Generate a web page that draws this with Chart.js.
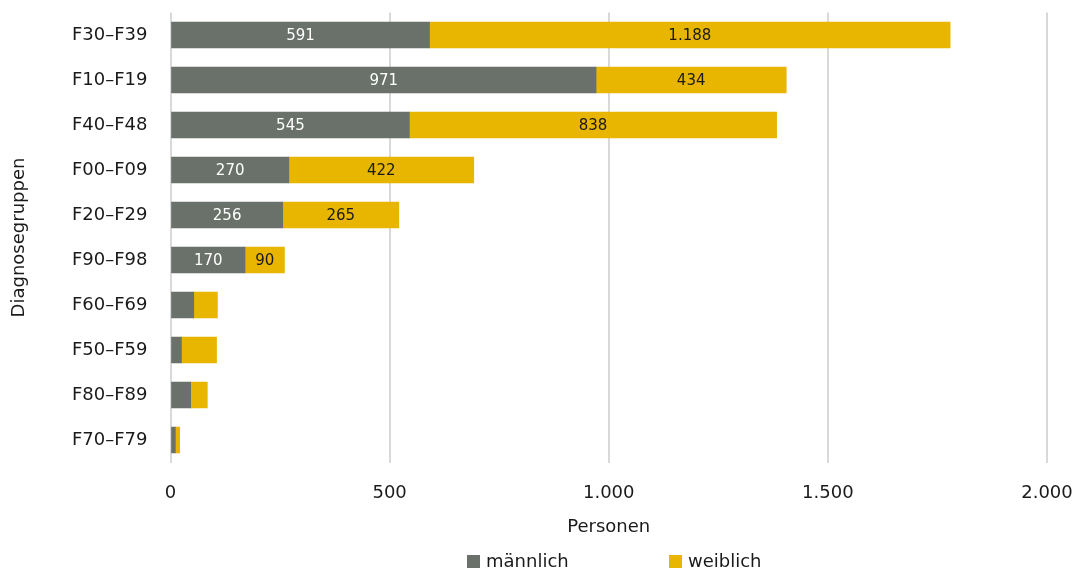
<!DOCTYPE html>
<html>
<head>
<meta charset="utf-8">
<script src="https://cdn.jsdelivr.net/npm/chart.js@4/dist/chart.umd.min.js"></script>
<style>
  html, body { margin: 0; padding: 0; background: #fff; }
  #wrap { width: 1076px; height: 570px; }
</style>
</head>
<body>
<div id="wrap"><canvas id="c" width="1076" height="570"></canvas></div>
<script>
// Diagnosis groups (ICD-10 chapter F), persons by sex
const categories = ['F30–F39', 'F10–F19', 'F40–F48', 'F00–F09', 'F20–F29', 'F90–F98', 'F60–F69', 'F50–F59', 'F80–F89', 'F70–F79'];
const maleValues = [591, 971, 545, 270, 256, 170, 53, 25, 46, 11];
const femaleValues = [1188, 434, 838, 422, 265, 90, 54, 80, 38, 10];
const labelledRows = 6; // value labels only on the larger groups
const xTicks = [0, 500, 1000, 1500, 2000];

const FONT = '"DejaVu Sans", sans-serif';
const TEXT = '#1a1a1a';
const MALE = '#69716a';
const FEMALE = '#e8b500';

const fmt = v => v.toLocaleString('de-DE');

// value labels inside the bar segments
const barLabels = {
  id: 'barLabels',
  afterDatasetsDraw(chart) {
    const ctx = chart.ctx;
    ctx.save();
    ctx.font = '15px ' + FONT;
    ctx.textAlign = 'center';
    ctx.textBaseline = 'middle';
    chart.data.datasets.forEach((ds, di) => {
      const meta = chart.getDatasetMeta(di);
      meta.data.forEach((bar, i) => {
        if (i >= labelledRows) return;
        const p = bar.getProps(['x', 'y', 'base'], true);
        ctx.fillStyle = di === 0 ? '#ffffff' : TEXT;
        ctx.fillText(fmt(ds.data[i]), (p.x + p.base) / 2, p.y + 1);
      });
    });
    ctx.restore();
  }
};

// legend drawn below the axis title
const bottomLegend = {
  id: 'bottomLegend',
  afterDraw(chart) {
    const ctx = chart.ctx;
    ctx.save();
    ctx.font = '18px ' + FONT;
    ctx.textBaseline = 'middle';
    const items = chart.data.datasets.map((ds, i) => ({
      text: ds.label, color: ds.backgroundColor, x: i === 0 ? 467 : 669
    }));
    const y = 561;
    items.forEach(it => {
      ctx.fillStyle = it.color;
      ctx.fillRect(it.x, y - 6, 13, 13);
      ctx.fillStyle = TEXT;
      ctx.fillText(it.text, it.x + 19, y + 1);
    });
    ctx.restore();
  }
};

const axisFont = { family: FONT, size: 18 };

new Chart(document.getElementById('c'), {
  type: 'bar',
  data: {
    labels: categories,
    datasets: [
      { label: 'männlich', data: maleValues, backgroundColor: MALE, barThickness: 26 },
      { label: 'weiblich', data: femaleValues, backgroundColor: FEMALE, barThickness: 26 }
    ]
  },
  options: {
    indexAxis: 'y',
    responsive: false,
    animation: false,
    devicePixelRatio: 1,
    layout: { padding: { left: 9, right: 29, top: 12.5, bottom: 31.6 } },
    plugins: {
      legend: { display: false },
      tooltip: { enabled: false }
    },
    scales: {
      x: {
        stacked: true,
        min: 0,
        max: 2000,
        afterBuildTicks(axis) { axis.ticks = xTicks.map(v => ({ value: v })); },
        afterFit(axis) { axis.paddingLeft = 0; axis.paddingRight = 0; },
        grid: { color: '#d9d9d9', lineWidth: 2, drawTicks: false },
        border: { display: false },
        ticks: {
          padding: 20,
          color: TEXT,
          font: axisFont,
          callback: v => fmt(v)
        },
        title: {
          display: true,
          text: 'Personen',
          color: TEXT,
          font: axisFont,
          padding: { top: -7.3, bottom: 0 }
        }
      },
      y: {
        stacked: true,
        afterFit(axis) { axis.paddingTop = 0; axis.paddingBottom = 0; },
        grid: { display: false, drawTicks: false },
        border: { display: false },
        ticks: {
          padding: 23,
          color: TEXT,
          font: axisFont
        },
        title: {
          display: true,
          text: 'Diagnosegruppen',
          color: TEXT,
          font: axisFont,
          padding: { top: 0, bottom: 18.4 }
        }
      }
    }
  },
  plugins: [barLabels, bottomLegend]
});
</script>
</body>
</html>
